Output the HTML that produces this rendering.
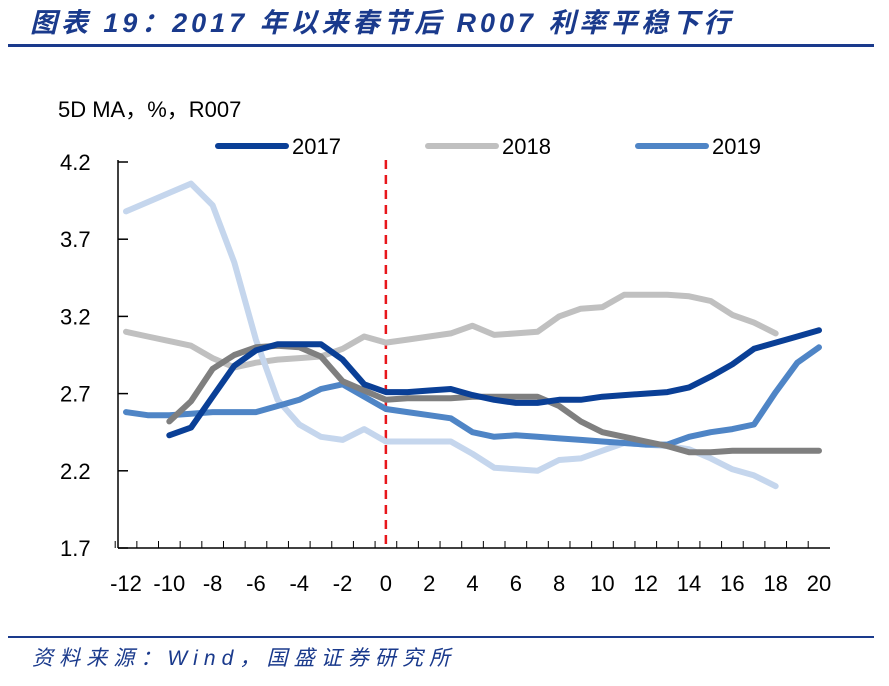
<!DOCTYPE html>
<html><head><meta charset="utf-8"><style>
body{margin:0;background:#fff;}
svg text{font-family:"Liberation Sans","Noto Sans CJK SC",sans-serif;}
</style></head><body>
<svg width="889" height="681" viewBox="0 0 889 681">
<text x="30" y="32" font-size="27" font-weight="bold" font-style="italic" fill="#1a3a8c" textLength="700" lengthAdjust="spacing">图表 19：2017 年以来春节后 R007 利率平稳下行</text>
<rect x="8" y="44" width="866" height="3" fill="#1a3a8c"/>
<rect x="8" y="636" width="866" height="2" fill="#1a3a8c"/>
<text x="32" y="665" font-size="21" font-style="italic" fill="#1a3a8c" textLength="418" lengthAdjust="spacing">资料来源：Wind，国盛证券研究所</text>
<text x="58" y="117" font-size="22" fill="#000">5D MA，%，R007</text>
<g id="legend"></g>
<g id="axes"></g>
<g id="plot"></g>
</svg>
<script>
const days=[-12,-11,-10,-9,-8,-7,-6,-5,-4,-3,-2,-1,0,1,2,3,4,5,6,7,8,9,10,11,12,13,14,15,16,17,18,19,20];
const s2016=[3.88,3.94,4.0,4.06,3.92,3.55,3.05,2.66,2.5,2.42,2.4,2.47,2.39,2.39,2.39,2.39,2.31,2.22,2.21,2.2,2.27,2.28,2.33,2.38,2.37,2.36,2.34,2.28,2.21,2.17,2.1,null,null];
const s2018=[3.1,3.07,3.04,3.01,2.93,2.87,2.9,2.92,2.93,2.94,2.99,3.07,3.03,3.05,3.07,3.09,3.14,3.08,3.09,3.1,3.2,3.25,3.26,3.34,3.34,3.34,3.33,3.3,3.21,3.16,3.09,null,null];
const sGray=[null,null,2.52,2.65,2.86,2.95,3.0,3.01,3.0,2.94,2.78,2.72,2.66,2.67,2.67,2.67,2.68,2.68,2.68,2.68,2.62,2.52,2.45,2.42,2.39,2.36,2.32,2.32,2.33,2.33,2.33,2.33,2.33];
const s2019=[2.58,2.56,2.56,2.57,2.58,2.58,2.58,2.62,2.66,2.73,2.76,2.68,2.6,2.58,2.56,2.54,2.45,2.42,2.43,2.42,2.41,2.4,2.39,2.38,2.37,2.37,2.42,2.45,2.47,2.5,2.71,2.9,3.0];
const s2017=[null,null,2.43,2.48,2.68,2.88,2.98,3.02,3.02,3.02,2.92,2.76,2.71,2.71,2.72,2.73,2.69,2.66,2.64,2.64,2.66,2.66,2.68,2.69,2.7,2.71,2.74,2.81,2.89,2.99,3.03,3.07,3.11];
const yTicks=[4.2,3.7,3.2,2.7,2.2,1.7];
const xTicks=[-12,-10,-8,-6,-4,-2,0,2,4,6,8,10,12,14,16,18,20];
const NS="http://www.w3.org/2000/svg";
const X=d=>126+(d+12)*(819-126)/32;
const Y=v=>162+(4.2-v)*154.4;
function mk(tag,attrs,parent){const e=document.createElementNS(NS,tag);for(const k in attrs)e.setAttribute(k,attrs[k]);document.getElementById(parent).appendChild(e);return e;}
let ax=mk('line',{x1:118,y1:160,x2:118,y2:548,stroke:'#000','stroke-width':1.5},'axes');


let bx=mk('line',{x1:118,y1:548,x2:830,y2:548,stroke:'#000','stroke-width':1.5},'axes');


yTicks.forEach(v=>{
 const t=mk('line',{x1:118,y1:Y(v),x2:128,y2:Y(v),stroke:'#000','stroke-width':1.5},'axes');
 
 
 const l=mk('text',{x:60,y:Y(v)+8,'font-size':22},'axes');l.textContent=v.toFixed(1);
 
 
});
for(let d=-12;d<=20;d++){
 const t=mk('line',{x1:X(d)-10.8,y1:548,x2:X(d)-10.8,y2:541,stroke:'#000','stroke-width':1},'axes');
 
 
}
xTicks.forEach(d=>{
 const l=mk('text',{x:X(d),y:591,'font-size':22,'text-anchor':'middle'},'axes');l.textContent=d;
 
 
});
const rl=mk('line',{x1:X(0),y1:160,x2:X(0),y2:548,stroke:'#e8161b','stroke-width':2.5,'stroke-dasharray':'9,6'},'axes');


function series(arr,color,name){
 let d='';let pen=false;
 arr.forEach((v,i)=>{if(v==null){pen=false;return;}d+=(pen?'L':'M')+X(days[i]).toFixed(1)+' '+Y(v).toFixed(1);pen=true;});
 const p=mk('path',{d:d,fill:'none',stroke:color,'stroke-width':6,'stroke-linecap':'round','stroke-linejoin':'round'},'plot');
 
 
}
series(s2018,'#c0c0c0','series-2018');
series(s2016,'#c5d6ed','series-light-blue');
series(s2019,'#4f85c6','series-2019');
series(sGray,'#7f7f7f','series-gray');
series(s2017,'#0a3f96','series-2017');
[['2017','#0a3f96',218],['2018','#c0c0c0',428],['2019','#4f85c6',638]].forEach(([n,c,x])=>{
 const ln=mk('line',{x1:x,y1:146,x2:x+68,y2:146,stroke:c,'stroke-width':6,'stroke-linecap':'round'},'legend');
 
 
 const t=mk('text',{x:x+74,y:154,'font-size':22},'legend');t.textContent=n;
 
 
});
</script>
</body></html>
